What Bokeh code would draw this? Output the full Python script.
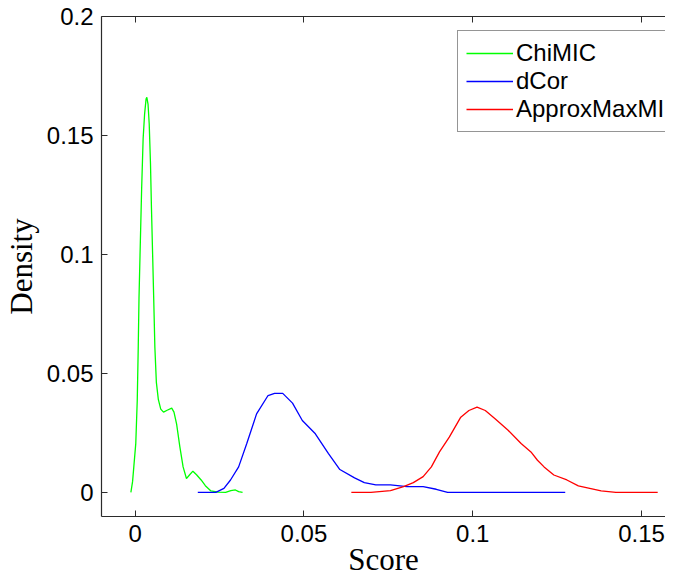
from bokeh.plotting import figure
from bokeh.models import Range1d, LinearAxis, FixedTicker, NumeralTickFormatter, Legend, LegendItem
from bokeh.embed import file_html
from bokeh.resources import INLINE

# ---- data ----
chimic_x = [-0.00125, -0.00075, -0.00038, 0.0002, 0.00064, 0.00093, 0.00116, 0.00151, 0.00194,
            0.00238, 0.00282, 0.00325, 0.00348, 0.00383, 0.00418, 0.00456, 0.00485, 0.00522,
            0.00551, 0.00586, 0.0063, 0.00688, 0.0076, 0.00842, 0.00949, 0.01085, 0.01152,
            0.0123, 0.01326, 0.01422, 0.01521, 0.01616, 0.01712, 0.0182, 0.01956, 0.02081,
            0.02246, 0.02458, 0.02681, 0.02835, 0.02972, 0.03067, 0.03183]
chimic_y = [0.0, 0.0045, 0.0107, 0.0205, 0.0387, 0.0609, 0.0818, 0.1027, 0.1277,
            0.1486, 0.1591, 0.1653, 0.1660, 0.1632, 0.1549, 0.1381, 0.1194, 0.0985,
            0.0818, 0.0609, 0.0462, 0.0391, 0.0350, 0.0337, 0.0345, 0.0354, 0.0337,
            0.0287, 0.0191, 0.0107, 0.0058, 0.0074, 0.0089, 0.0074, 0.0052, 0.0028,
            0.0006, 0.0001, 0.0, 0.0007, 0.0010, 0.0003, 0.0]

dcor_x = [0.01857, 0.02391, 0.02632, 0.02826, 0.03067, 0.03308, 0.03598, 0.03938, 0.04132,
          0.04373, 0.04663, 0.04953, 0.05339, 0.05728, 0.06065, 0.065, 0.0679, 0.0713,
          0.07565, 0.0805, 0.08532, 0.0892, 0.09257, 0.1274]
dcor_y = [0.0, 0.0, 0.0017, 0.0052, 0.0107, 0.0205, 0.0330, 0.0407, 0.0416,
          0.0416, 0.0375, 0.0302, 0.0246, 0.0163, 0.0096, 0.0061, 0.0041, 0.0031,
          0.0031, 0.0024, 0.0024, 0.0013, 0.0, 0.0]

amm_x = [0.06405, 0.06985, 0.07565, 0.07951, 0.08241, 0.08532, 0.08775, 0.09016, 0.09306,
         0.09646, 0.09887, 0.10128, 0.10372, 0.10662, 0.11048, 0.11433, 0.11724, 0.11918,
         0.12113, 0.12403, 0.12789, 0.13128, 0.13465, 0.13804, 0.1424, 0.15479]
amm_y = [0.0, 0.0, 0.0007, 0.0024, 0.0041, 0.0066, 0.0107, 0.0170, 0.0232,
         0.0316, 0.0344, 0.0358, 0.0344, 0.0309, 0.0261, 0.0205, 0.0170, 0.0135,
         0.0107, 0.0073, 0.0052, 0.0027, 0.0017, 0.0006, 0.0, 0.0]

x_ticks = [0, 0.05, 0.1, 0.15]
y_ticks = [0, 0.05, 0.1, 0.15, 0.2]
series_names = ["ChiMIC", "dCor", "ApproxMaxMI"]
series_colors = ["#00ff00", "#0000ff", "#ff0000"]
x_label = "Score"
y_label = "Density"

X_START, X_END = -0.00995, 0.1571
Y_START, Y_END = -0.01015, 0.2

AX = "#2b2b2b"
TICK_FONT = "Liberation Sans"
LABEL_FONT = "Liberation Serif"

p = figure(width=665, height=580, output_backend="svg", toolbar_location=None,
           x_range=Range1d(X_START, X_END), y_range=Range1d(Y_START, Y_END),
           min_border_left=97, min_border_right=0, min_border_top=16, min_border_bottom=64,
           x_axis_label=x_label, y_axis_label=y_label)
p.xgrid.visible = False
p.ygrid.visible = False
p.outline_line_color = None
p.background_fill_color = "white"
p.border_fill_color = "white"

fmt = NumeralTickFormatter(format="0.[00]")
for ax, ticks in ((p.xaxis[0], x_ticks), (p.yaxis[0], y_ticks)):
    ax.ticker = FixedTicker(ticks=ticks)
    ax.formatter = fmt
    ax.major_tick_in = 6
    ax.major_tick_out = 0
    ax.minor_tick_line_color = None
    ax.axis_line_color = AX
    ax.major_tick_line_color = AX
    ax.axis_line_width = 1.2
    ax.major_label_text_font = TICK_FONT
    ax.major_label_text_font_size = "24px"
    ax.major_label_text_color = "black"
    ax.axis_label_text_font = LABEL_FONT
    ax.axis_label_text_font_size = "31px"
    ax.axis_label_text_font_style = "normal"
    ax.axis_label_text_color = "black"

p.xaxis[0].major_label_standoff = 8
p.xaxis[0].axis_label_standoff = -3
p.xaxis[0].axis_label_text_line_height = 0.5
p.yaxis[0].major_label_standoff = 8
p.yaxis[0].axis_label_standoff = 5

top = LinearAxis(ticker=FixedTicker(ticks=x_ticks), major_label_text_font_size="1px",
                 major_label_text_color=None, major_tick_in=6, major_tick_out=0,
                 minor_tick_line_color=None, major_label_standoff=0, axis_line_color=AX,
                 major_tick_line_color=AX, axis_line_width=1.2)
p.add_layout(top, "above")

rs = []
for xs, ys, c in ((chimic_x, chimic_y, series_colors[0]),
                  (dcor_x, dcor_y, series_colors[1]),
                  (amm_x, amm_y, series_colors[2])):
    rs.append(p.line(xs, ys, line_color=c, line_width=1.3))

legend = Legend(items=[LegendItem(label=n, renderers=[r]) for n, r in zip(series_names, rs)],
                location=(356, 384), label_text_font=TICK_FONT, label_text_font_size="24px",
                label_text_color="black", glyph_width=47, glyph_height=28, label_height=28,
                label_standoff=3, spacing=0, padding=8, margin=0, label_width=175,
                border_line_color=AX, border_line_width=1, background_fill_color="white",
                background_fill_alpha=1)
p.add_layout(legend, "center")

open("out.html", "w").write(file_html(p, INLINE))
